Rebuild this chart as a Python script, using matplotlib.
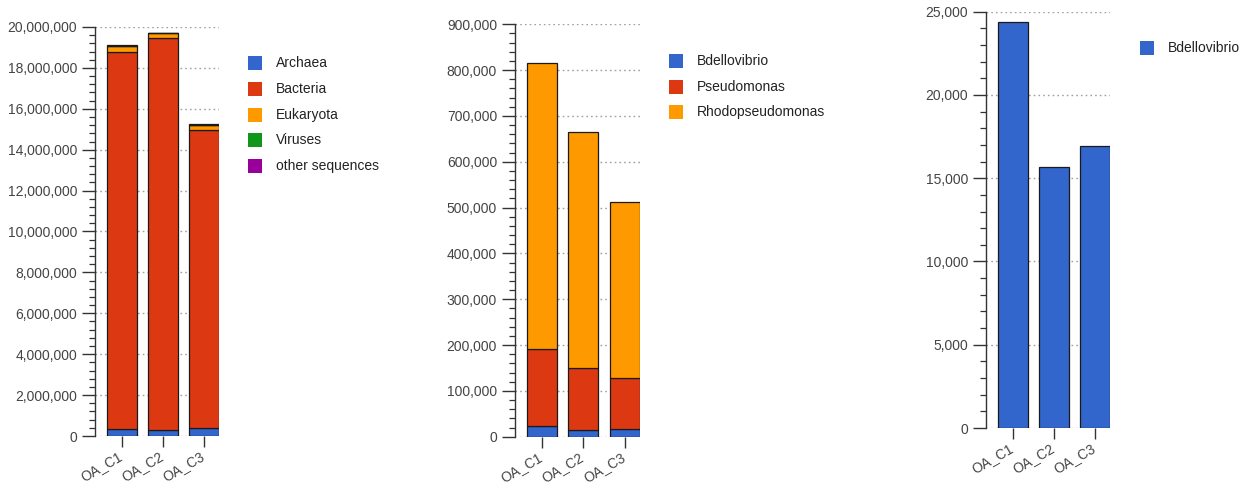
import matplotlib
matplotlib.use("Agg")
import matplotlib.pyplot as plt
import matplotlib.transforms as mtransforms
from matplotlib.patches import Rectangle
from matplotlib.ticker import MultipleLocator, FuncFormatter
import numpy as np

plt.rcParams["font.family"] = ["Liberation Sans", "DejaVu Sans"]

samples = ["OA_C1", "OA_C2", "OA_C3"]

# Domain-level read counts
domain_names = ["Archaea", "Bacteria", "Eukaryota", "Viruses", "other sequences"]
archaea = [330000, 300000, 400000]
bacteria = [18450000, 19180000, 14580000]
eukaryota = [270000, 210000, 220000]
viruses = [20000, 15000, 15000]
other_sequences = [30000, 20000, 25000]

# Genus-level read counts
genus_names = ["Bdellovibrio", "Pseudomonas", "Rhodopseudomonas"]
bdellovibrio = [24400, 15700, 16950]
pseudomonas = [166600, 133300, 112000]
rhodopseudomonas = [624000, 515000, 383000]

palette = ["#3366CC", "#DC3912", "#FF9900", "#109618", "#990099"]
TEXT = "#444444"
AXIS = "#333333"
W, H = 1250, 486

fig = plt.figure(figsize=(W / 100, H / 100), dpi=100)
label_shift = mtransforms.ScaledTranslation(-0.04, 0.02, fig.dpi_scale_trans)


def panel(rect, series, names, ymax, major, minor, legend_xy):
    ax = fig.add_axes(rect)
    x = np.arange(len(samples))
    bottom = np.zeros(len(samples))
    for vals, col in zip(series, palette):
        ax.bar(x, vals, width=0.73, bottom=bottom, color=col,
               edgecolor="#1a1a1a", linewidth=0.9, zorder=3)
        bottom += np.asarray(vals, dtype=float)
    ax.set_xlim(-0.65, 2.37)
    ax.set_ylim(0, ymax)
    ax.yaxis.set_major_locator(MultipleLocator(major))
    ax.yaxis.set_minor_locator(MultipleLocator(minor))
    ax.yaxis.set_major_formatter(FuncFormatter(lambda v, p: f"{int(v):,}"))
    ax.grid(axis="y", which="major", color="#a0a0a0", linestyle=(0, (1.2, 2.2)),
            linewidth=1.0, zorder=0)
    for s in ["top", "right", "bottom"]:
        ax.spines[s].set_visible(False)
    ax.spines["left"].set_color(AXIS)
    ax.spines["left"].set_linewidth(1.0)
    ax.tick_params(axis="y", which="major", length=9.4, width=1.0, color=AXIS,
                   labelsize=10, labelcolor=TEXT, pad=3.5)
    ax.tick_params(axis="y", which="minor", length=4.3, width=0.9, color=AXIS)
    ax.set_xticks(x)
    ax.set_xticklabels(samples, rotation=30, ha="right", va="top",
                       rotation_mode="anchor")
    ax.tick_params(axis="x", length=8, width=1.0, color=AXIS, direction="out",
                   labelsize=10, labelcolor=TEXT, pad=3)
    for lab in ax.get_xticklabels():
        lab.set_transform(lab.get_transform() + label_shift)
    # legend drawn as colour squares with labels
    lx, ly = legend_xy
    for i, (name, col) in enumerate(zip(names, palette)):
        yc = ly + i * 25.7
        fig.patches.append(Rectangle((lx / W, (H - yc - 7) / H), 14 / W, 14 / H,
                                     transform=fig.transFigure,
                                     facecolor=col, edgecolor="none"))
        fig.text((lx + 28) / W, (H - yc) / H, name, fontsize=10,
                 color="#222222", va="center", ha="left")
    return ax


panel([95 / W, 50 / H, 124 / W, 409 / H],
      [archaea, bacteria, eukaryota, viruses, other_sequences], domain_names,
      20000000, 2000000, 400000, (248, 63.3))
panel([515 / W, 49.3 / H, 125 / W, 412.4 / H],
      [bdellovibrio, pseudomonas, rhodopseudomonas], genus_names,
      900000, 100000, 20000, (669, 61))
panel([986 / W, 58 / H, 124.3 / W, 416.3 / H],
      [bdellovibrio], genus_names[:1],
      25000, 5000, 1000, (1140, 48.3))

fig.savefig("out.png", dpi=100, facecolor="white")
